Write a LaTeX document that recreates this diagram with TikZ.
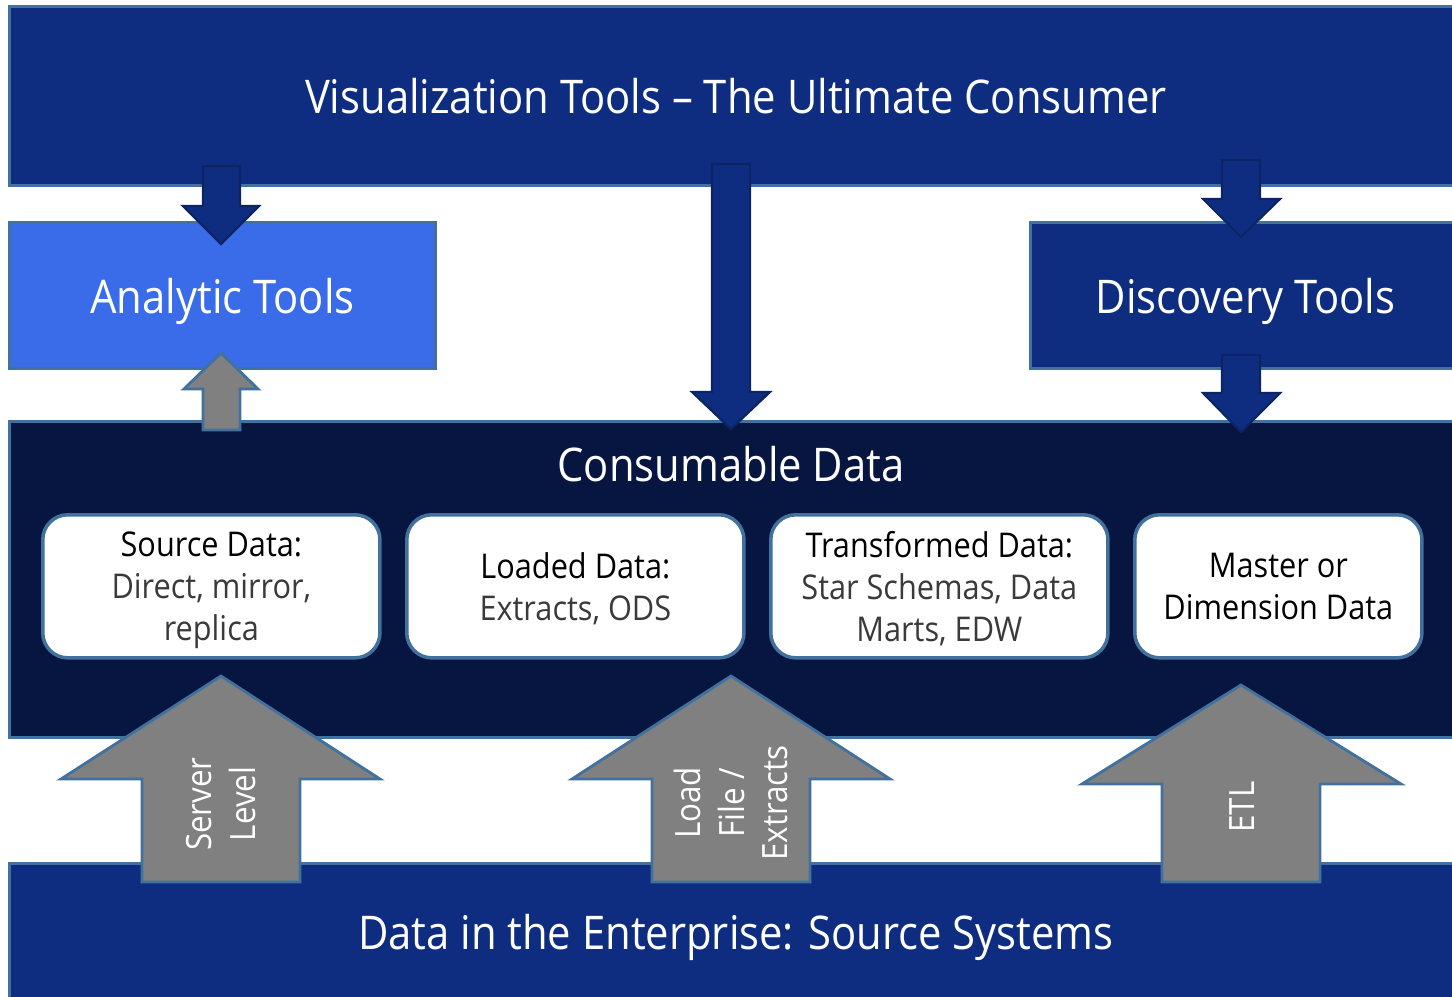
\documentclass[tikz,border=0pt]{standalone}
\usepackage{fontspec}
\setmainfont{Open Sans}[FakeStretch=0.9]
\definecolor{topblue}{HTML}{0F2D80}
\definecolor{analytic}{HTML}{3A6BE8}
\definecolor{navy}{HTML}{071640}
\definecolor{edge}{HTML}{41719C}
\definecolor{arrowedge}{HTML}{0B2463}
\definecolor{grayfill}{HTML}{808080}
\definecolor{subtext}{HTML}{3A3A3A}
\begin{document}
\begin{tikzpicture}[x=0.01cm,y=-0.01cm,
  bar/.style={draw=edge,line width=0.8pt,inner sep=0pt,text=white,
    font=\fontsize{13.2}{16}\selectfont,text depth=0pt},
  databox/.style={draw=edge,line width=1pt,fill=white,rounded corners=0.25cm,
    minimum width=3.37cm,minimum height=1.43cm,align=center,inner sep=0pt,
    font=\fontsize{9.7}{12}\selectfont,text depth=0pt},
  bluearrow/.style={fill=topblue,draw=arrowedge,line width=0.6pt,line join=miter},
  grayarrow/.style={fill=grayfill,draw=edge,line width=0.8pt,line join=miter},
  arrowlabel/.style={rotate=90,align=center,text=white,
    font=\fontsize{9.9}{12.3}\selectfont}]
\useasboundingbox (0,0) rectangle (1452,996);
\fill[white] (0,0) rectangle (1452,996);

% bars
\node[bar,fill=topblue,minimum width=14.52cm,minimum height=1.79cm,anchor=north west]
  (viz) at (8,5) {Visualization Tools – The Ultimate Consumer};
\node[bar,fill=navy,minimum width=14.52cm,minimum height=3.16cm,anchor=north west]
  (cons) at (8,420) {};
\node[text=white,font=\fontsize{13.2}{16}\selectfont] (constitle) at (731,464) {Consumable Data};
\node[bar,fill=topblue,minimum width=14.52cm,minimum height=1.36cm,anchor=north west]
  (src) at (8,862) {Data in the Enterprise: Source Systems};

% tools boxes
\node[bar,fill=analytic,minimum width=4.26cm,minimum height=1.46cm,anchor=north west]
  (analytic) at (8,221) {Analytic Tools};
\node[bar,fill=topblue,minimum width=4.30cm,minimum height=1.46cm,anchor=north west]
  (discovery) at (1029,221) {Discovery Tools};

% data boxes
\node[databox,anchor=north west] (b1) at (41,513)
  {Source Data:\\\color{subtext}Direct, mirror,\\\color{subtext}replica};
\node[databox,anchor=north west] (b2) at (405,513)
  {Loaded Data:\\\color{subtext}Extracts, ODS};
\node[databox,anchor=north west] (b3) at (769,513)
  {Transformed Data:\\\color{subtext}Star Schemas, Data\\\color{subtext}Marts, EDW};
\node[databox,anchor=north west,minimum width=2.87cm] (b4) at (1133,513)
  {Master or\\Dimension Data};

% blue down arrows
\draw[bluearrow] (203,166) -- (240,166) -- (240,206) -- (259,206) -- (221,244) -- (183,206) -- (203,206) -- cycle;
\draw[bluearrow] (712,164) -- (750,164) -- (750,392) -- (770,392) -- (731,429) -- (692,392) -- (712,392) -- cycle;
\draw[bluearrow] (1222,160) -- (1260,160) -- (1260,199) -- (1280,199) -- (1241,237) -- (1203,199) -- (1222,199) -- cycle;
\draw[bluearrow] (1222,355) -- (1260,355) -- (1260,393) -- (1280,393) -- (1241,432) -- (1203,393) -- (1222,393) -- cycle;

% gray up arrows
\draw[grayarrow] (221,353) -- (258,389) -- (240,389) -- (240,430) -- (203,430) -- (203,389) -- (184,389) -- cycle;
\draw[grayarrow] (221,676) -- (380,779) -- (300,779) -- (300,882) -- (142,882) -- (142,779) -- (61,779) -- cycle;
\draw[grayarrow] (731,676) -- (890,779) -- (810,779) -- (810,882) -- (652,882) -- (652,779) -- (572,779) -- cycle;
\draw[grayarrow] (1241,685) -- (1401,784) -- (1320,784) -- (1320,882) -- (1162,882) -- (1162,784) -- (1082,784) -- cycle;

% arrow labels
\node[arrowlabel] (lserver) at (221,804) {Server\\Level};
\node[arrowlabel] (lload) at (731,803) {Load\\File /\\Extracts};
\node[arrowlabel] (letl) at (1242,807) {ETL};
\end{tikzpicture}
\end{document}
